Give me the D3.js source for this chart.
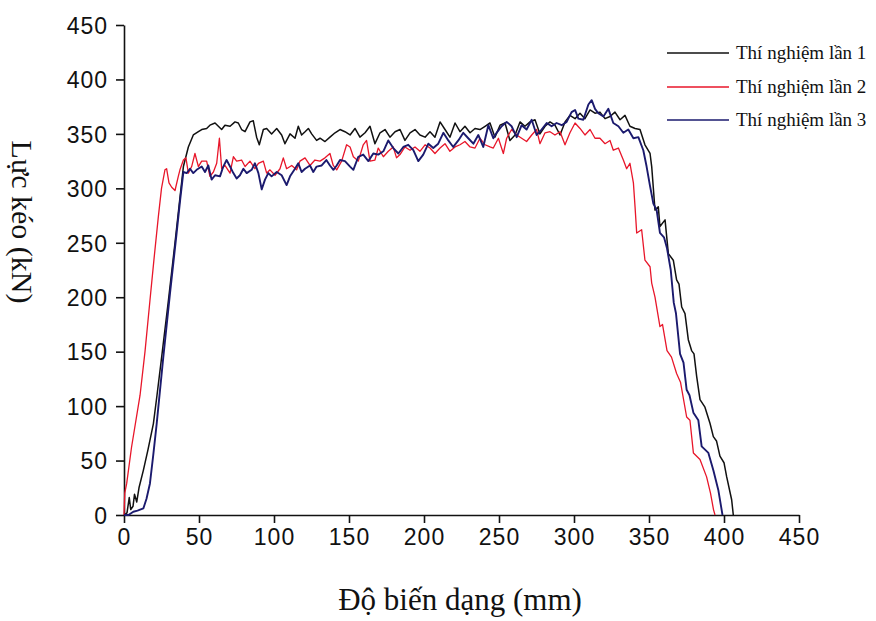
<!DOCTYPE html>
<meta charset="utf-8">
<script src='https://d3js.org/d3.v7.min.js'></script>
<style>
  body { margin: 0; background: #fff; }
  .tick text { font-family: "Liberation Sans", Arial, sans-serif; font-size: 23px; letter-spacing: 1px; fill: #111; }
  .axis path, .axis line { stroke: #111; stroke-width: 1.6; }
  .title { font-family: "Liberation Serif", "Times New Roman", serif; fill: #111; }
  .legend text { font-family: "Liberation Serif", "Times New Roman", serif; font-size: 19px; fill: #111; }
</style>
<svg id="chart" width="876" height="621"></svg>
<script>
  // deformation (mm), force (kN)
  const test1 = [[0,0],[2,2],[3.5,16],[4.5,5],[6,8],[7,19],[8.5,12],[10,25],[12.9,41],[16,60],[19.6,84],[22,110],[25.1,145],[29.6,197],[34,250],[38.4,305],[39.6,320],[42.9,338],[46.2,349],[49.6,352],[51.8,354],[55.1,355],[57.3,358],[60.7,360],[62.9,357],[65.1,354],[67.3,358],[70.7,357],[74,361],[76.2,360],[78.4,354],[80.7,352],[84,361],[86.2,362],[88.4,347],[90.2,340],[92.9,354],[95.1,355],[98.4,350],[101.8,355],[105.1,349],[107.3,341],[110.7,350],[114,346],[116.2,357],[118.4,349],[120.7,352],[122.9,355],[125.1,350],[128.4,344],[130.7,346],[134,343],[137.3,347],[140.7,351],[144,354],[147.3,352],[150.7,349],[154,355],[157.3,347],[160.7,351],[164,357],[167.3,341],[170.7,351],[174,354],[177.3,347],[180.7,352],[184,354],[187.3,344],[190.7,351],[194,354],[197.3,349],[200.7,347],[204,352],[207.3,347],[210.7,361],[214,354],[217.3,347],[220.7,360],[224,352],[227.3,357],[230.7,351],[234,355],[237.3,354],[240.7,357],[244,360],[247.3,347],[250.7,358],[254,360],[257.3,344],[260.7,349],[264,361],[267.3,357],[270.7,361],[274,363],[277.3,350],[280.7,357],[284,361],[287.3,358],[290.7,349],[294,361],[297.3,367],[300.7,364],[304,369],[307.3,364],[310.7,372],[314,369],[317.3,370],[320.7,364],[324,366],[327.3,370],[330.7,363],[334,367],[337.3,357],[340.7,355],[344,354],[347.3,340],[350.7,332],[351.8,320],[354,280],[356.2,283],[357.3,265],[360.7,271],[362.9,240],[366.2,234],[368.4,216],[370,212],[371.8,191],[374,185],[376.2,161],[378.4,151],[380,148],[381.8,127],[384,106],[387.3,99],[390.7,84],[392.9,72],[395,68],[397.3,54],[400,48],[401.8,35],[405.1,14],[406.2,0]]

  const test2 = [[0,0],[0.5,20],[1.8,29],[5,62],[10.7,110],[14,150],[17.3,197],[20,235],[22.9,274],[25,300],[27.3,317],[28.4,318],[30,305],[31.8,301],[34,298],[36.2,311],[37.3,317],[39.6,326],[41.3,328],[42.9,314],[45.1,320],[47.3,332],[49.6,320],[51.8,325],[55.1,325],[57.3,311],[59.6,315],[61.8,323],[63.6,346],[65.1,318],[67.3,321],[70.7,314],[72.9,329],[75.1,325],[78.4,326],[80.7,320],[84,325],[87.3,318],[89.6,323],[92.9,325],[95.1,314],[97.3,317],[100.7,312],[104,318],[106.2,328],[108.4,318],[111.8,321],[115.1,317],[117.3,325],[120.7,328],[124,321],[127.3,326],[130.7,325],[134,328],[137.3,332],[139.5,321],[141.8,317],[145.1,325],[148.4,340],[150.7,338],[152.9,329],[156.2,325],[159.5,340],[161.7,344],[164,325],[167.3,326],[169.5,337],[172.9,329],[176.2,334],[179.5,338],[181.7,328],[184,331],[187.3,338],[190.7,335],[194,338],[197.3,334],[200.7,340],[204,337],[207.3,332],[210.7,337],[214,341],[217.3,334],[220.7,338],[224,340],[227.3,343],[230.7,338],[234,337],[237.3,346],[240.7,340],[244,338],[246.2,337],[249.6,346],[252.9,332],[255.1,346],[258.4,354],[261.8,349],[265.1,346],[268.4,343],[271.8,349],[275.1,354],[277.3,341],[280.7,351],[284,352],[287.3,349],[290.7,352],[294,340],[297.3,351],[300.7,360],[304,355],[307.3,349],[310.7,354],[314,346],[317.3,346],[320.7,341],[324,344],[326.2,335],[329.6,337],[332.9,326],[335.1,318],[337.3,323],[339.6,305],[340.7,283],[341.8,259],[345.1,262],[347.3,234],[350.7,228],[351.8,213],[354,200],[357.3,173],[359,175],[362,151],[365,145],[368.4,130],[371,122],[375.1,90],[377.3,87],[379.6,57],[384,51],[388.4,35],[391,20],[393,5],[394,0]]

  const test3 = [[0,0],[3,0],[6.2,3],[9,4],[12.9,6],[15,15],[17.3,29],[19.5,55],[21.8,84],[26.2,145],[30.7,204],[35.1,259],[37.5,290],[39.6,315],[41.8,314],[44,318],[46.2,314],[48.4,317],[51.8,320],[54,315],[56.2,321],[58.4,308],[60.7,312],[64,311],[66.2,320],[68.4,326],[70.7,320],[72.9,314],[75.1,309],[77.3,312],[79.6,318],[81.8,314],[85.1,317],[87.3,323],[89.6,314],[91.8,299],[94,308],[96.2,314],[98.4,311],[101.8,315],[105.1,312],[108.4,303],[110.7,311],[114,318],[116.2,323],[118.4,315],[120.7,318],[124,321],[126.2,315],[128.4,320],[131.8,321],[134.9,326],[137.3,321],[139.6,317],[141.8,321],[144,326],[147.3,325],[150.7,320],[152.9,317],[156.2,329],[159.5,331],[162.9,325],[166.2,332],[169.5,331],[172.9,334],[176.2,344],[179.5,337],[182.9,332],[186.2,338],[189.5,340],[192.9,335],[196.2,325],[199.5,331],[202.9,341],[206.2,337],[209.5,341],[212.9,351],[216.2,344],[219.5,338],[222.9,344],[226.2,351],[229.5,346],[232.9,341],[236.2,349],[239.5,338],[242.9,358],[246.2,346],[248.4,351],[251.8,357],[255.1,361],[258.4,357],[261.8,347],[265.1,358],[268.4,354],[271.8,363],[275.1,349],[278.4,354],[281.8,360],[285.1,357],[288.4,360],[291.8,358],[295.1,361],[298.4,370],[300.7,372],[302.9,364],[306.2,363],[309.6,377],[311.8,381],[314,373],[316.2,369],[319.6,366],[322.9,373],[326.2,360],[329.6,357],[332.9,351],[336.2,354],[339.6,346],[342.9,347],[346.2,335],[348.4,320],[350.7,302],[352.9,286],[355.1,280],[357.3,259],[360,255],[362,245],[364.5,225],[366.5,195],[368,185],[370.7,148],[373,140],[375.1,115],[377,110],[379.6,94],[382.9,87],[385.1,63],[389.6,57],[392.9,41],[396.2,23],[398.4,5],[399,0]]

  const seriesNames = ["Thí nghiệm lần 1", "Thí nghiệm lần 2", "Thí nghiệm lần 3"]
  const seriesColors = ["#111111", "#e8162a", "#1b1a6e"]
  const seriesWidths = [1.5, 1.3, 1.9]
  const xTicks = [0, 50, 100, 150, 200, 250, 300, 350, 400, 450]
  const yTicks = [0, 50, 100, 150, 200, 250, 300, 350, 400, 450]

  var svg = d3.select("#chart")
  const margin = {top: 25, right: 77, bottom: 106, left: 124}
  const width = svg.attr("width") - margin.left - margin.right
  const height = svg.attr("height") - margin.top - margin.bottom
  const x = d3.scaleLinear().domain([0, 450]).range([0, width])
  const y = d3.scaleLinear().domain([0, 450]).range([height, 0])

  var g = svg.append("g").attr("transform", "translate(" + margin.left + "," + margin.top + ")")

  // axes
  g.append("g").attr("class", "axis")
    .attr("transform", "translate(0," + height + ")")
    .call(d3.axisBottom(x).tickValues(xTicks).tickSize(8).tickSizeOuter(0).tickPadding(6))
  g.append("g").attr("class", "axis")
    .call(d3.axisLeft(y).tickValues(yTicks).tickSize(8).tickSizeOuter(0).tickPadding(8))
    .selectAll(".tick text").attr("dy", "0.36em")

  // curves
  const line = d3.line().x(d => x(d[0])).y(d => y(d[1]))
  const data = [test1, test2, test3]
  data.forEach((s, i) => {
    g.append("path")
      .datum(s)
      .attr("fill", "none")
      .attr("stroke", seriesColors[i])
      .attr("stroke-width", seriesWidths[i])
      .attr("stroke-linejoin", "round")
      .attr("d", line)
  })

  // axis titles
  svg.append("text").attr("class", "title")
    .attr("x", margin.left + x(224)).attr("y", 610)
    .attr("text-anchor", "middle").style("font-size", "31px")
    .text("Độ biến dạng (mm)")
  svg.append("text").attr("class", "title")
    .attr("transform", "translate(12,222) rotate(90)")
    .attr("text-anchor", "middle").style("font-size", "30px")
    .text("Lực kéo (kN)")

  // legend
  var legend = svg.append("g").attr("class", "legend")
  const legendY = [53, 87, 120]
  seriesNames.forEach((name, i) => {
    legend.append("line")
      .attr("x1", 667).attr("x2", 729)
      .attr("y1", legendY[i]).attr("y2", legendY[i])
      .attr("stroke", seriesColors[i]).attr("stroke-width", 1.5)
    legend.append("text")
      .attr("x", 736).attr("y", legendY[i] + 6)
      .text(name)
  })
</script>
